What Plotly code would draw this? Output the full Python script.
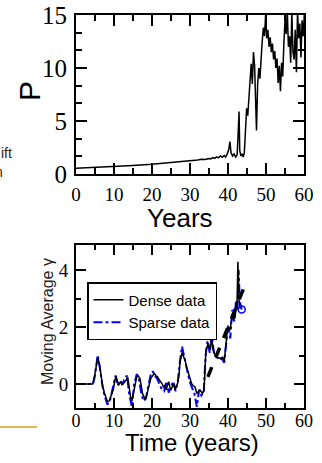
import plotly.graph_objects as go

# ---------------- data ----------------
p_years = [0, 5, 10, 15, 20, 25, 30, 32, 33, 34,
           35, 35.5, 36, 36.5, 37, 37.5, 38, 38.5, 39, 39.4,
           39.8, 40.2, 40.5, 40.8, 41.2, 41.6, 42.0, 42.4, 42.7, 42.9,
           43.1, 43.4, 43.7, 44.0, 44.3, 44.6, 44.9, 45.2, 45.5, 45.8,
           46.1, 46.4, 46.7, 47.0, 47.3, 47.5, 47.8, 48.1, 48.4, 48.7,
           49.0, 49.3, 49.6, 49.9, 50.2, 50.5, 50.8, 51.1, 51.4, 51.7,
           52.0, 52.3, 52.6, 52.9, 53.2, 53.5, 53.8, 54.1, 54.4, 54.7,
           55.0, 55.3, 55.6, 55.9, 56.2, 56.5, 56.8, 57.1, 57.4, 57.7,
           58.0, 58.3, 58.6, 58.9, 59.2, 59.5, 59.8, 60.1, 60.5]
p_values = [0.55, 0.62, 0.71, 0.81, 0.93, 1.07, 1.24, 1.32, 1.38, 1.36,
            1.47, 1.42, 1.55, 1.48, 1.62, 1.52, 1.70, 1.58, 1.75, 1.60,
            1.90, 2.30, 3.05, 2.00, 1.70, 1.90, 1.60, 1.80, 4.00, 5.90,
            2.20, 1.70, 1.90, 1.60, 2.00, 4.50, 6.20, 5.50, 7.50, 9.00,
            10.4, 8.50, 11.5, 10.2, 6.00, 4.10, 8.50, 10.0, 9.00, 11.2,
            12.5, 13.8, 13.0, 15.0, 12.8, 13.6, 12.0, 12.9, 11.5, 12.3,
            10.8, 11.6, 10.0, 10.9, 8.60, 10.2, 7.80, 10.5, 9.20, 12.3,
            14.5, 13.2, 15.4, 12.0, 13.0, 10.5, 15.2, 11.5, 10.8, 13.6,
            9.60, 15.3, 12.8, 14.2, 11.0, 14.5, 13.0, 15.2, 14.0]

dense_t = [0, 4.4, 4.9, 5.3, 5.7, 6.1, 6.6, 7.0, 7.5, 7.9,
           8.3, 8.7, 9.0, 9.4, 9.8, 10.2, 10.5, 10.9, 11.2, 11.5,
           11.8, 12.1, 12.5, 12.9, 13.2, 13.6, 14.0, 14.3, 14.7, 15.1,
           15.6, 15.9, 16.2, 16.5, 16.8, 17.1, 17.5, 17.9, 18.2, 18.5,
           18.9, 19.3, 19.7, 20.1, 20.6, 21.0, 21.5, 21.9, 22.4, 22.7,
           23.0, 23.4, 23.7, 24.1, 24.4, 24.7, 25.0, 25.3, 25.6, 25.9,
           26.1, 26.5, 26.8, 27.1, 27.4, 27.9, 28.2, 28.7, 29.1, 29.6,
           30.0, 30.4, 30.8, 31.3, 31.8, 32.2, 32.6, 33.0, 33.3, 33.7,
           34.0, 34.2, 34.5, 34.8, 35.1, 35.3, 35.7, 36.1, 36.5, 36.8,
           37.2, 37.7, 38.1, 38.6, 39.0, 39.3, 39.5, 39.8, 40.1, 40.5,
           40.9, 41.2, 41.5, 41.8, 42.1, 42.4, 42.6, 42.9, 43.2]
dense_v = [0, 0, 0.3, 0.7, 0.92, 0.75, 0.25, -0.05, -0.33, -0.5,
           -0.62, -0.6, -0.5, -0.38, -0.2, 0.1, 0.28, 0.1, -0.04, 0.05,
           0.08, -0.02, 0.02, 0.1, 0.14, 0.25, -0.2, -0.4, -0.6, -0.3,
           0.08, 0.2, 0.32, 0.25, 0.2, 0.0, -0.33, -0.45, -0.56, -0.45,
           -0.21, 0.0, 0.2, 0.28, 0.37, 0.3, 0.25, 0.15, 0.08, 0.0,
           -0.1, -0.05, -0.2, -0.05, 0.08, -0.1, -0.21, -0.1, 0.0, -0.1,
           -0.2, -0.05, 0.05, 0.3, 0.8, 1.1, 1.0, 0.84, 0.6, 0.37,
           0.2, 0.02, -0.05, -0.1, -0.33, -0.28, -0.21, -0.28, -0.33, -0.2,
           0.5, 1.19, 1.3, 1.43, 1.3, 1.19, 1.6, 1.19, 1.05, 0.96,
           0.95, 0.9, 0.92, 0.94, 0.78, 1.2, 1.66, 1.85, 2.01, 1.89,
           2.2, 2.48, 2.35, 2.3, 2.6, 2.95, 4.29, 2.95, 2.65]

sparse_t = [0, 4.5, 5.0, 5.7, 6.3, 7.0, 7.6, 8.3, 9.0, 9.7,
            10.4, 11.0, 11.6, 12.2, 12.8, 13.4, 14.0, 14.7, 15.3, 16.0,
            16.6, 17.2, 17.8, 18.4, 19.0, 19.6, 20.2, 20.7, 21.3, 22.0,
            22.6, 23.2, 23.8, 24.4, 25.0, 25.6, 26.2, 26.8, 27.4, 27.9,
            28.5, 29.2, 29.9, 30.6, 31.2, 31.8, 32.4, 33.0, 33.6, 34.1,
            34.6, 35.2, 35.7, 36.3, 37.0, 37.7, 38.4, 39.0, 39.5, 40.0,
            40.6, 41.1, 41.6, 42.1, 42.5, 42.8, 43.1, 43.6]
sparse_v = [0, 0, 0.3, 1.02, 0.55, -0.1, -0.45, -0.72, -0.55, -0.15,
            0.3, -0.05, 0.12, -0.02, 0.2, 0.3, -0.35, -0.8, 0.0, 0.35,
            0.15, -0.35, -0.6, -0.5, -0.1, 0.3, 0.45, 0.3, 0.2, 0.0,
            -0.2, -0.25, 0.1, -0.3, -0.1, 0.1, -0.25, 0.1, 0.85, 1.32,
            0.95, 0.5, 0.1, -0.15, -0.35, -0.8, -0.2, -0.4, -0.3, 1.0,
            1.5, 1.1, 1.72, 1.1, 0.95, 0.85, 0.9, 0.75, 1.5, 2.05,
            1.6, 2.6, 2.2, 2.9, 2.6, 4.0, 2.9, 2.62]

fit_t = [34.7, 44.4]
fit_v = [0.25, 3.45]

x_tickvals = [0, 10, 20, 30, 40, 50, 60]
p_tickvals = [0, 5, 10, 15]
g_tickvals = [0, 2, 4]

# ---------------- figure ----------------
W, H = 322, 463
SERIF = "Liberation Serif, Times New Roman, serif"
SANS = "Liberation Sans, Arial, sans-serif"

fig = go.Figure()

fig.add_trace(go.Scatter(x=p_years, y=p_values, mode="lines",
                         line=dict(color="black", width=1.5),
                         showlegend=False, xaxis="x", yaxis="y"))

fig.add_trace(go.Scatter(x=sparse_t, y=sparse_v, mode="lines", name="Sparse data",
                         line=dict(color="#0000ff", width=2, dash="dashdot"),
                         xaxis="x2", yaxis="y2", legendrank=2))
fig.add_trace(go.Scatter(x=dense_t, y=dense_v, mode="lines", name="Dense data",
                         line=dict(color="black", width=1.5),
                         xaxis="x2", yaxis="y2", legendrank=1))
fig.add_trace(go.Scatter(x=sparse_t[-1:], y=sparse_v[-1:], mode="markers",
                         marker=dict(symbol="circle-open", size=7, color="#0000ff",
                                     line=dict(color="#0000ff", width=1.5)),
                         showlegend=False, xaxis="x2", yaxis="y2"))
fig.add_trace(go.Scatter(x=fit_t, y=fit_v, mode="lines",
                         line=dict(color="black", width=3.5, dash="dash"),
                         showlegend=False, xaxis="x2", yaxis="y2"))

xdom = [76 / W, 304 / W]
top_dom = [1 - 174 / H, 1 - 15 / H]
bot_dom = [1 - 408 / H, 1 - 245 / H]

common = dict(showline=True, linecolor="black", linewidth=2, mirror="allticks",
              ticks="inside", tickcolor="black", tickwidth=2,
              showgrid=False, zeroline=False, automargin=False)

fig.update_layout(
    template="none",
    width=W, height=H,
    margin=dict(l=0, r=0, t=0, b=0, pad=0, autoexpand=False),
    paper_bgcolor="white", plot_bgcolor="white",
    xaxis=dict(domain=xdom, range=[0, 60], tickvals=x_tickvals, anchor="y",
               ticklen=11, ticklabelstandoff=2,
               tickfont=dict(family=SERIF, size=19, color="black"),
               minor=dict(dtick=5, tick0=0, ticks="inside", ticklen=6,
                          tickwidth=1.5, tickcolor="black", showgrid=False),
               **common),
    yaxis=dict(domain=top_dom, range=[0, 15], tickvals=p_tickvals, anchor="x",
               ticklen=11, ticklabelstandoff=2,
               tickfont=dict(family=SERIF, size=25, color="black"),
               minor=dict(dtick=5 / 3, tick0=0, ticks="inside", ticklen=6,
                          tickwidth=1.5, tickcolor="black", showgrid=False),
               **common),
    xaxis2=dict(domain=xdom, range=[0, 60], tickvals=x_tickvals, anchor="y2",
                ticklen=10, ticklabelstandoff=-5,
                tickfont=dict(family=SERIF, size=18, color="black"),
                minor=dict(dtick=5, tick0=0, ticks="inside", ticklen=5,
                           tickwidth=1.5, tickcolor="black", showgrid=False),
                **common),
    yaxis2=dict(domain=bot_dom, range=[-0.84, 4.88], tickvals=g_tickvals, anchor="x2",
                ticklen=10, ticklabelstandoff=2,
                tickfont=dict(family=SERIF, size=19, color="black"),
                minor=dict(dtick=1, tick0=0, ticks="inside", ticklen=5,
                           tickwidth=1.5, tickcolor="black", showgrid=False),
                **common),
    legend=dict(x=87 / W, y=1 - 282 / H, xanchor="left", yanchor="top",
                bgcolor="white", bordercolor="black", borderwidth=1.5,
                font=dict(family=SANS, size=15, color="black"),
                itemwidth=30, tracegroupgap=0),
    showlegend=True,
)

ann = [
    dict(text="P", x=30 / W, y=1 - 91 / H, textangle=-90,
         font=dict(family=SANS, size=30, color="black")),
    dict(text="Years", x=180 / W, y=1 - 218 / H,
         font=dict(family=SANS, size=26, color="black")),
    dict(text="Moving Average γ", x=47 / W, y=1 - 322 / H, textangle=-90,
         font=dict(family=SANS, size=16, color="#222222")),
    dict(text="Time (years)", x=192 / W, y=1 - 442 / H,
         font=dict(family=SANS, size=24, color="black")),
]
for a in ann:
    fig.add_annotation(xref="paper", yref="paper", showarrow=False,
                       xanchor="center", yanchor="middle", **a)

fig.add_annotation(text="ift", x=14 / W, y=1 - 153 / H, xref="paper", yref="paper",
                   xanchor="right", yanchor="middle", showarrow=False,
                   font=dict(family=SANS, size=14, color="#222222"))
fig.add_annotation(text="n", x=5 / W, y=1 - 172 / H, xref="paper", yref="paper",
                   xanchor="right", yanchor="middle", showarrow=False,
                   font=dict(family=SANS, size=14, color="#222222"))

fig.add_shape(type="line", xref="paper", yref="paper",
              x0=0, x1=37 / W, y0=1 - 427 / H, y1=1 - 427 / H,
              line=dict(color="#D6A21E", width=1.5))

fig.write_html("out.html")
